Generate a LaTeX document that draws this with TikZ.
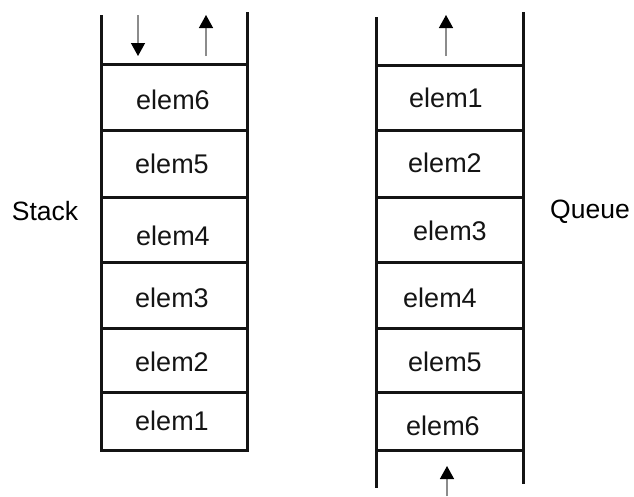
\documentclass[tikz,border=0pt]{standalone}
\usepackage{fontspec}
\setmainfont{Liberation Sans}
\usetikzlibrary{arrows.meta}
\begin{document}
\begin{tikzpicture}[x=1pt,y=-1pt,
  wall/.style={line width=3pt,color=black!92},
  elemtext/.style={font=\fontsize{27}{30}\selectfont,text=black!92,inner sep=0pt},
  sidelabel/.style={font=\fontsize{26.5}{30}\selectfont,text=black,inner sep=0pt},
  flow/.style={line width=1.4pt,color=black!45,-{Triangle[length=13pt,width=14pt,color=black]}}]
\useasboundingbox (0,0) rectangle (634,496);
% Stack
\draw[wall] (101,15) -- (101,450) -- (247,450) -- (247,12);
\foreach \y in {64,130,197,262,328,392}
  \draw[wall] (101,\y) -- (247,\y);
\node[elemtext] (s6) at (173,100) {elem6};
\node[elemtext] (s5) at (172,164) {elem5};
\node[elemtext] (s4) at (173,236) {elem4};
\node[elemtext] (s3) at (172,298) {elem3};
\node[elemtext] (s2) at (172,362) {elem2};
\node[elemtext] (s1) at (172,421) {elem1};
\node[sidelabel] (stack) at (45,211) {Stack};
\coordinate (pushA) at (138,15);
\coordinate (pushB) at (138,56);
\coordinate (popA) at (206,56);
\coordinate (popB) at (206,15);
\draw[flow] (pushA) -- (pushB);
\draw[flow] (popA) -- (popB);
% Queue
\draw[wall] (376,17) -- (376,488);
\draw[wall] (523,12) -- (523,484);
\foreach \y in {65,130,197,262,328,392,450}
  \draw[wall] (376,\y) -- (523,\y);
\node[elemtext] (q1) at (446,98) {elem1};
\node[elemtext] (q2) at (445,163) {elem2};
\node[elemtext] (q3) at (450,231) {elem3};
\node[elemtext] (q4) at (440,298) {elem4};
\node[elemtext] (q5) at (445,362) {elem5};
\node[elemtext] (q6) at (443,426) {elem6};
\node[sidelabel] (queue) at (590,212) {Queue};
\coordinate (deqA) at (446,56);
\coordinate (deqB) at (446,15);
\coordinate (enqA) at (447,496);
\coordinate (enqB) at (447,466);
\draw[flow] (deqA) -- (deqB);
\draw[flow] (enqA) -- (enqB);
\end{tikzpicture}
\end{document}
